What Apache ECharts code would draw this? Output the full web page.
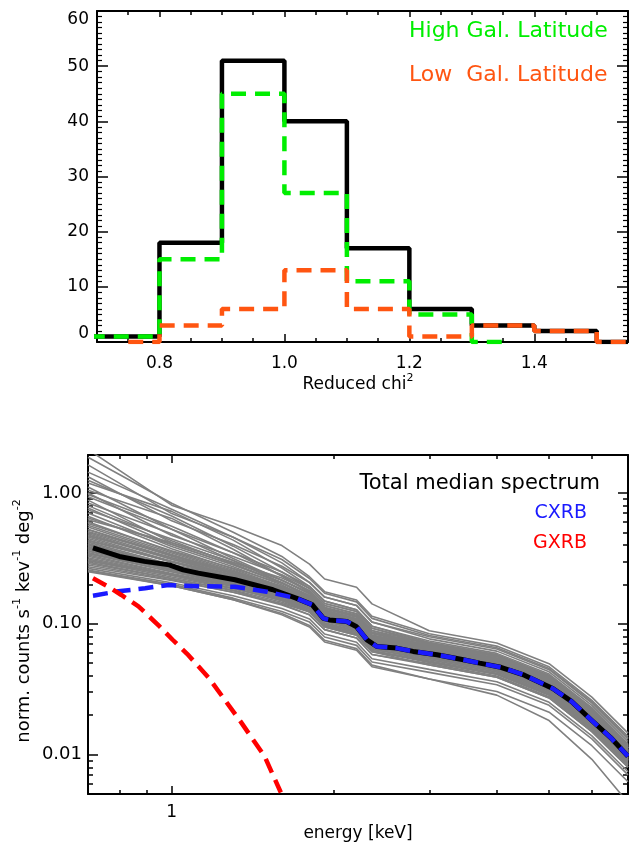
<!DOCTYPE html>
<html>
<head>
<meta charset="utf-8">
<script src="https://cdn.jsdelivr.net/npm/echarts@6/dist/echarts.min.js"></script>
<style>
  html, body { margin: 0; padding: 0; background: #ffffff; }
  #chart { width: 629px; height: 848px; }
</style>
</head>
<body>
<div id="chart"></div>
<script>
// ---------- Reduced chi^2 histogram (bin centres, counts per 0.1 bin) ----------
const chiBinCenters = [0.65, 0.75, 0.85, 0.95, 1.05, 1.15, 1.25, 1.35, 1.45, 1.55];
const countsAll  = [1, 1, 18, 51, 40, 17, 6, 3, 2, 0];
const countsHigh = [1, 1, 15, 45, 27, 11, 5, 0, null, null];
const countsLow  = [null, 0, 3, 6, 13, 6, 1, 3, 2, 0];
const chiMajorTicks = [0.8, 1.0, 1.2, 1.4];
const chiMinorTicks = [0.75, 0.85, 0.9, 0.95, 1.05, 1.1, 1.15, 1.25, 1.3, 1.35, 1.45, 1.5];

// ---------- Spectra: total median, CXRB and GXRB model components ----------
const medianEnergy = [0.715, 0.80, 0.89, 0.99, 1.05, 1.12, 1.31, 1.54, 1.70, 1.82, 1.91, 1.96, 2.11, 2.20,
                      2.30, 2.40, 2.61, 2.80, 3.10, 3.47, 3.72, 4.07, 4.50, 5.08, 5.50, 5.95, 6.50, 7.00];
const medianFlux   = [0.380, 0.327, 0.300, 0.282, 0.258, 0.244, 0.217, 0.182, 0.157, 0.140, 0.110, 0.107, 0.104, 0.095,
                      0.0754, 0.0670, 0.0652, 0.0615, 0.0580, 0.0531, 0.0500, 0.0465, 0.0405, 0.0320, 0.0255, 0.0188, 0.0135, 0.0097];

const cxrbEnergy = [0.715, 0.797, 0.893, 0.987, 1.045, 1.124, 1.31, 1.50, 1.70, 1.82, 1.91, 1.96, 2.11, 2.20,
                    2.30, 2.40, 2.61, 2.80, 3.10, 3.47, 3.72, 4.07, 4.50, 5.08, 5.50, 5.95, 6.50, 7.00];
const cxrbFlux   = [0.164, 0.177, 0.187, 0.198, 0.195, 0.194, 0.192, 0.176, 0.157, 0.140, 0.110, 0.107, 0.104, 0.095,
                    0.0754, 0.0670, 0.0652, 0.0615, 0.0580, 0.0531, 0.0500, 0.0465, 0.0405, 0.0320, 0.0255, 0.0188, 0.0135, 0.0097];

const gxrbEnergy = [0.715, 0.762, 0.807, 0.868, 0.951, 1.004, 1.068, 1.171, 1.343, 1.487, 1.593];
const gxrbFlux   = [0.223, 0.193, 0.166, 0.136, 0.095, 0.0755, 0.0590, 0.0387, 0.0178, 0.00966, 0.00513];

// Individual field spectra, all sampled on the same energy grid (keV)
const fieldEnergy = [0.7, 1.0, 1.3, 1.6, 1.8, 1.92, 2.2, 2.35, 3.0, 4.0, 5.0, 6.0, 7.0];
const fieldSpectra = [
  [2.15, 0.806, 0.556, 0.396, 0.286, 0.220, 0.190, 0.142, 0.0885, 0.0713, 0.0495, 0.0275, 0.0146],
  [1.64, 0.695, 0.458, 0.310, 0.222, 0.171, 0.147, 0.110, 0.0814, 0.0656, 0.0455, 0.0253, 0.0134],
  [1.33, 0.612, 0.403, 0.275, 0.207, 0.160, 0.138, 0.103, 0.0767, 0.0618, 0.0429, 0.0238, 0.0126],
  [1.19, 0.723, 0.436, 0.267, 0.193, 0.149, 0.128, 0.0959, 0.0738, 0.0594, 0.0413, 0.0229, 0.0121],
  [1.11, 0.528, 0.349, 0.249, 0.193, 0.149, 0.128, 0.0959, 0.0720, 0.0580, 0.0403, 0.0223, 0.0118],
  [1.05, 0.639, 0.371, 0.232, 0.179, 0.138, 0.119, 0.0888, 0.0708, 0.0570, 0.0396, 0.0220, 0.0116],
  [0.998, 0.473, 0.327, 0.237, 0.186, 0.143, 0.124, 0.0923, 0.0696, 0.0561, 0.0389, 0.0216, 0.0114],
  [0.936, 0.528, 0.316, 0.215, 0.172, 0.132, 0.114, 0.0852, 0.0679, 0.0546, 0.0380, 0.0210, 0.0112],
  [0.881, 0.417, 0.294, 0.224, 0.179, 0.138, 0.119, 0.0888, 0.0667, 0.0537, 0.0373, 0.0207, 0.0110],
  [0.839, 0.487, 0.305, 0.206, 0.160, 0.123, 0.106, 0.0795, 0.0649, 0.0523, 0.0363, 0.0201, 0.0107],
  [0.768, 0.403, 0.283, 0.206, 0.164, 0.127, 0.109, 0.0817, 0.0649, 0.0523, 0.0363, 0.0201, 0.0107],
  [0.702, 0.389, 0.273, 0.198, 0.157, 0.121, 0.105, 0.0781, 0.0637, 0.0513, 0.0356, 0.0198, 0.0105],
  [0.663, 0.375, 0.262, 0.193, 0.154, 0.119, 0.103, 0.0767, 0.0620, 0.0499, 0.0347, 0.0192, 0.0102],
  [0.601, 0.356, 0.257, 0.189, 0.153, 0.118, 0.102, 0.0760, 0.0614, 0.0494, 0.0343, 0.0190, 0.0101],
  [0.550, 0.339, 0.244, 0.186, 0.150, 0.116, 0.0998, 0.0746, 0.0602, 0.0485, 0.0337, 0.0187, 0.0099],
  [0.523, 0.328, 0.240, 0.181, 0.146, 0.112, 0.0969, 0.0724, 0.0590, 0.0475, 0.0330, 0.0183, 0.0097],
  [0.499, 0.320, 0.235, 0.177, 0.143, 0.110, 0.0950, 0.0710, 0.0578, 0.0466, 0.0323, 0.0179, 0.0095],
  [0.476, 0.311, 0.235, 0.182, 0.150, 0.116, 0.0998, 0.0746, 0.0625, 0.0504, 0.0350, 0.0194, 0.0103],
  [0.460, 0.300, 0.227, 0.172, 0.140, 0.108, 0.0931, 0.0696, 0.0566, 0.0456, 0.0317, 0.0176, 0.0093],
  [0.437, 0.297, 0.229, 0.181, 0.154, 0.119, 0.103, 0.0767, 0.0661, 0.0532, 0.0370, 0.0205, 0.0109],
  [0.421, 0.284, 0.218, 0.169, 0.137, 0.106, 0.0912, 0.0682, 0.0555, 0.0447, 0.0310, 0.0172, 0.0091],
  [0.406, 0.278, 0.218, 0.172, 0.144, 0.111, 0.0960, 0.0717, 0.0608, 0.0489, 0.0340, 0.0188, 0.0100],
  [0.390, 0.270, 0.209, 0.162, 0.133, 0.102, 0.0884, 0.0660, 0.0549, 0.0442, 0.0307, 0.0170, 0.0090],
  [0.371, 0.261, 0.205, 0.163, 0.139, 0.107, 0.0922, 0.0689, 0.0590, 0.0475, 0.0330, 0.0183, 0.0097],
  [0.351, 0.250, 0.196, 0.155, 0.129, 0.099, 0.0855, 0.0639, 0.0531, 0.0428, 0.0297, 0.0165, 0.0087],
  [0.335, 0.242, 0.196, 0.160, 0.137, 0.106, 0.0912, 0.0682, 0.0590, 0.0475, 0.0330, 0.0183, 0.0097],
  [0.320, 0.236, 0.187, 0.150, 0.124, 0.0957, 0.0827, 0.0618, 0.0507, 0.0409, 0.0284, 0.0157, 0.0083],
  [0.304, 0.228, 0.185, 0.155, 0.136, 0.105, 0.0903, 0.0675, 0.0620, 0.0499, 0.0347, 0.0192, 0.0102],
  [0.289, 0.222, 0.179, 0.141, 0.117, 0.0902, 0.0779, 0.0582, 0.0484, 0.0390, 0.0271, 0.0150, 0.0080],
  [0.273, 0.214, 0.174, 0.143, 0.123, 0.0946, 0.0817, 0.0611, 0.0531, 0.0428, 0.0297, 0.0165, 0.0087],
  [0.265, 0.206, 0.164, 0.131, 0.109, 0.0836, 0.0722, 0.0540, 0.0448, 0.0361, 0.0251, 0.0139, 0.0074],
  [0.257, 0.200, 0.157, 0.124, 0.103, 0.0792, 0.0684, 0.0511, 0.0425, 0.0342, 0.0238, 0.0132, 0.0070],
  [0.254, 0.195, 0.153, 0.117, 0.0944, 0.0726, 0.0627, 0.0469, 0.0378, 0.0304, 0.0211, 0.0117, 0.0062],
  [0.250, 0.195, 0.153, 0.120, 0.0972, 0.0748, 0.0646, 0.0483, 0.0378, 0.0285, 0.0182, 0.0092, 0.0043],
  [0.507, 0.334, 0.251, 0.193, 0.160, 0.123, 0.106, 0.0795, 0.0661, 0.0532, 0.0370, 0.0205, 0.0109],
  [0.585, 0.361, 0.266, 0.203, 0.164, 0.127, 0.109, 0.0817, 0.0679, 0.0546, 0.0380, 0.0210, 0.0112],
  [0.382, 0.284, 0.229, 0.184, 0.154, 0.119, 0.103, 0.0767, 0.0637, 0.0513, 0.0356, 0.0198, 0.0105],
  [0.343, 0.267, 0.218, 0.175, 0.149, 0.114, 0.0988, 0.0738, 0.0620, 0.0499, 0.0347, 0.0192, 0.0102],
  [0.624, 0.417, 0.294, 0.215, 0.172, 0.132, 0.114, 0.0852, 0.0708, 0.0570, 0.0396, 0.0220, 0.0116],
  [0.359, 0.256, 0.201, 0.155, 0.123, 0.0946, 0.0817, 0.0611, 0.0484, 0.0390, 0.0271, 0.0150, 0.0080],
  [0.566, 0.348, 0.251, 0.189, 0.154, 0.119, 0.103, 0.0767, 0.0649, 0.0523, 0.0363, 0.0201, 0.0107],
  [0.488, 0.311, 0.235, 0.182, 0.150, 0.116, 0.0998, 0.0746, 0.0620, 0.0499, 0.0347, 0.0192, 0.0102],
  [0.449, 0.295, 0.225, 0.175, 0.146, 0.112, 0.0969, 0.0724, 0.0602, 0.0485, 0.0337, 0.0187, 0.0099],
  [0.429, 0.300, 0.235, 0.189, 0.160, 0.123, 0.106, 0.0795, 0.0679, 0.0546, 0.0380, 0.0210, 0.0112],
  [0.410, 0.278, 0.214, 0.167, 0.139, 0.107, 0.0922, 0.0689, 0.0578, 0.0466, 0.0323, 0.0179, 0.0095],
  [0.378, 0.267, 0.211, 0.172, 0.147, 0.113, 0.0979, 0.0731, 0.0625, 0.0504, 0.0350, 0.0194, 0.0103],
  [0.363, 0.259, 0.203, 0.162, 0.136, 0.105, 0.0903, 0.0675, 0.0566, 0.0456, 0.0317, 0.0176, 0.0093],
  [0.343, 0.250, 0.201, 0.163, 0.140, 0.108, 0.0931, 0.0696, 0.0602, 0.0485, 0.0337, 0.0187, 0.0099],
  [0.328, 0.239, 0.192, 0.155, 0.132, 0.101, 0.0874, 0.0653, 0.0555, 0.0447, 0.0310, 0.0172, 0.0091],
  [0.312, 0.234, 0.187, 0.151, 0.129, 0.099, 0.0855, 0.0639, 0.0543, 0.0437, 0.0304, 0.0168, 0.0089],
  [0.296, 0.222, 0.181, 0.146, 0.124, 0.0957, 0.0827, 0.0618, 0.0519, 0.0418, 0.0290, 0.0161, 0.0085],
  [0.281, 0.217, 0.174, 0.139, 0.117, 0.0902, 0.0779, 0.0582, 0.0496, 0.0399, 0.0277, 0.0154, 0.0081],
  [0.468, 0.320, 0.244, 0.193, 0.162, 0.124, 0.107, 0.0802, 0.0696, 0.0561, 0.0389, 0.0216, 0.0114],
  [0.527, 0.334, 0.244, 0.186, 0.153, 0.118, 0.102, 0.0760, 0.0637, 0.0513, 0.0356, 0.0198, 0.0105],
  [0.644, 0.403, 0.283, 0.206, 0.164, 0.127, 0.109, 0.0817, 0.0661, 0.0532, 0.0370, 0.0205, 0.0109],
  [0.741, 0.445, 0.305, 0.215, 0.169, 0.130, 0.112, 0.0838, 0.0673, 0.0542, 0.0376, 0.0209, 0.0111],
  [0.800, 0.431, 0.288, 0.206, 0.160, 0.123, 0.106, 0.0795, 0.0625, 0.0504, 0.0350, 0.0194, 0.0103],
  [0.975, 0.556, 0.349, 0.232, 0.174, 0.134, 0.116, 0.0866, 0.0679, 0.0546, 0.0380, 0.0210, 0.0112],
  [1.248, 0.667, 0.392, 0.249, 0.186, 0.143, 0.124, 0.0923, 0.0720, 0.0580, 0.0403, 0.0223, 0.0118],
  [1.443, 0.751, 0.458, 0.292, 0.207, 0.160, 0.138, 0.103, 0.0797, 0.0641, 0.0446, 0.0247, 0.0131],
  [1.872, 0.834, 0.501, 0.327, 0.229, 0.176, 0.152, 0.114, 0.0838, 0.0675, 0.0469, 0.0260, 0.0138],
  [0.386, 0.281, 0.225, 0.181, 0.153, 0.118, 0.102, 0.0760, 0.0649, 0.0523, 0.0363, 0.0201, 0.0107],
  [0.398, 0.264, 0.201, 0.155, 0.126, 0.0968, 0.0836, 0.0625, 0.0513, 0.0413, 0.0287, 0.0159, 0.0084],
  [0.304, 0.236, 0.196, 0.160, 0.136, 0.105, 0.0903, 0.0675, 0.0572, 0.0461, 0.0320, 0.0178, 0.0094]
];

const energyMajorTicks = [1];
const energyMinorTicks = [0.8, 0.9, 2, 3, 4, 5, 6];
const fluxMajorTicks = [0.01, 0.1, 1];
const fluxMinorTicks = [0.006, 0.007, 0.008, 0.009,
                        0.02, 0.03, 0.04, 0.05, 0.06, 0.07, 0.08, 0.09,
                        0.2, 0.3, 0.4, 0.5, 0.6, 0.7, 0.8, 0.9];

// ---------- styling ----------
const FONT = 'DejaVu Sans';
const GREEN = '#00ee00';
const ORANGE = '#ff5511';
const BLUE = '#1a1aff';
const RED = '#ff0000';
const frameLine = { color: '#000', width: 2 };
const tickLine = { color: '#000', width: 1.5 };

function pairs(xs, ys) {
  const out = [];
  xs.forEach((x, i) => { if (ys[i] !== null && ys[i] !== undefined) out.push([x, ys[i]]); });
  return out;
}

// One side of a plot frame: the drawn side with major ticks, or a bare minor-tick layer
function frameAxis(base, position, showLine, ticks, tickLen, labelOpt) {
  return Object.assign({}, base, {
    position: position,
    axisLine: { show: showLine, onZero: false, lineStyle: frameLine },
    axisTick: { show: true, inside: true, length: tickLen, customValues: ticks, lineStyle: tickLine },
    axisLabel: labelOpt || { show: false },
    splitLine: { show: false }
  });
}

const histX = { type: 'value', gridIndex: 0, min: 0.7, max: 1.55 };
const specX = { type: 'log', logBase: 10, gridIndex: 1, min: 0.7, max: 7 };
const specY = { type: 'log', logBase: 10, gridIndex: 1, min: 0.005, max: 1.95 };

const histYBase = {
  type: 'value', gridIndex: 0, min: 0, max: 60, interval: 10,
  axisLine: { show: true, onZero: false, lineStyle: frameLine },
  axisTick: { show: true, inside: true, length: 11, lineStyle: tickLine },
  minorTick: { show: true, splitNumber: 10, length: 5, lineStyle: { color: '#000', width: 1.2 } },
  splitLine: { show: false },
  minorSplitLine: { show: false }
};

const xAxes = [
  frameAxis(histX, 'bottom', true, chiMajorTicks, 8, {
    show: true, customValues: chiMajorTicks, formatter: v => v.toFixed(1),
    margin: 13, color: '#000', fontSize: 17, fontFamily: FONT
  }),
  frameAxis(histX, 'bottom', false, chiMinorTicks, 4),
  frameAxis(histX, 'top', true, chiMajorTicks, 6),
  frameAxis(histX, 'top', false, chiMinorTicks, 4),
  frameAxis(specX, 'bottom', true, energyMajorTicks, 8, {
    show: true, customValues: energyMajorTicks, formatter: v => String(Math.round(v)),
    margin: 10, color: '#000', fontSize: 17, fontFamily: FONT
  }),
  frameAxis(specX, 'bottom', false, energyMinorTicks, 4),
  frameAxis(specX, 'top', true, energyMajorTicks, 8),
  frameAxis(specX, 'top', false, energyMinorTicks, 4)
];

const yAxes = [
  Object.assign({}, histYBase, {
    position: 'left',
    axisLabel: { show: true, margin: 8, color: '#000', fontSize: 17, fontFamily: FONT,
                 verticalAlignMaxLabel: 'top', verticalAlignMinLabel: 'bottom' }
  }),
  Object.assign({}, histYBase, { position: 'right', axisLabel: { show: false } }),
  frameAxis(specY, 'left', true, fluxMajorTicks, 10, {
    show: true, customValues: fluxMajorTicks, formatter: v => v.toFixed(2),
    margin: 6, color: '#000', fontSize: 18, fontFamily: FONT
  }),
  frameAxis(specY, 'left', false, fluxMinorTicks, 5),
  frameAxis(specY, 'right', true, fluxMajorTicks, 10),
  frameAxis(specY, 'right', false, fluxMinorTicks, 5)
];

const series = [];

// histograms: total (solid), high and low galactic latitude (dashed)
series.push({
  type: 'line', xAxisIndex: 0, yAxisIndex: 0, step: 'middle', symbol: 'none',
  data: pairs(chiBinCenters, countsAll),
  lineStyle: { color: '#000', width: 4.5 }, z: 3
});
series.push({
  type: 'line', xAxisIndex: 0, yAxisIndex: 0, step: 'middle', symbol: 'none',
  data: pairs(chiBinCenters, countsHigh),
  lineStyle: { color: GREEN, width: 4.5, type: [15, 9] }, z: 4
});
series.push({
  type: 'line', xAxisIndex: 0, yAxisIndex: 0, step: 'middle', symbol: 'none',
  data: pairs(chiBinCenters, countsLow),
  lineStyle: { color: ORANGE, width: 4.5, type: [15, 9] }, z: 5
});

// individual field spectra
fieldSpectra.forEach(spec => {
  series.push({
    type: 'line', xAxisIndex: 4, yAxisIndex: 2, symbol: 'none', silent: true,
    data: pairs(fieldEnergy, spec),
    lineStyle: { color: '#808080', width: 1.6 }, z: 2
  });
});

series.push({
  type: 'line', xAxisIndex: 4, yAxisIndex: 2, symbol: 'none',
  data: pairs(medianEnergy, medianFlux),
  lineStyle: { color: '#000', width: 5 }, z: 3
});
series.push({
  type: 'line', xAxisIndex: 4, yAxisIndex: 2, symbol: 'none',
  data: pairs(cxrbEnergy, cxrbFlux),
  lineStyle: { color: BLUE, width: 4.5, type: [15, 8] }, z: 4
});
series.push({
  type: 'line', xAxisIndex: 4, yAxisIndex: 2, symbol: 'none',
  data: pairs(gxrbEnergy, gxrbFlux),
  lineStyle: { color: RED, width: 4.5, type: [15, 8] }, z: 4
});

// superscripts: small token pinned to the top of a taller line box
const supStyle = { fontSize: 11, lineHeight: 11, fontFamily: FONT, fill: '#000', verticalAlign: 'top' };

function label(x, y, text, size, color, align, extra) {
  return Object.assign({
    type: 'text', x: x, y: y, z: 50,
    style: { text: text, fill: color, fontSize: size, fontFamily: FONT, align: align, verticalAlign: 'middle' }
  }, extra || {});
}

const graphics = [
  label(409, 31, 'High Gal. Latitude', 22, GREEN, 'left'),
  label(409, 75, 'Low  Gal. Latitude', 22, ORANGE, 'left'),
  label(600, 484, 'Total median spectrum', 21, '#000', 'right'),
  label(587, 513, 'CXRB', 19, BLUE, 'right'),
  label(587, 543, 'GXRB', 19, RED, 'right'),
  {
    type: 'text', x: 358, y: 385, z: 50,
    style: { text: 'Reduced chi{s|2}', fill: '#000', fontSize: 17, lineHeight: 24, fontFamily: FONT,
             align: 'center', verticalAlign: 'middle', rich: { s: supStyle } }
  },
  label(358, 834, 'energy [keV]', 17, '#000', 'center'),
  {
    type: 'text', x: 24, y: 621, rotation: Math.PI / 2, z: 50,
    style: { text: 'norm. counts s{s|-1} kev{s|-1} deg{s|-2}', fill: '#000', fontSize: 18, lineHeight: 25,
             fontFamily: FONT, align: 'center', verticalAlign: 'middle', rich: { s: supStyle } }
  }
];

const chart = echarts.init(document.getElementById('chart'), null, { renderer: 'canvas', width: 629, height: 848 });
chart.setOption({
  animation: false,
  backgroundColor: '#ffffff',
  grid: [
    { left: 97, top: 11, width: 531, height: 331, containLabel: false, outerBoundsMode: 'none' },
    { left: 88, top: 455, width: 540, height: 339, containLabel: false, outerBoundsMode: 'none' }
  ],
  xAxis: xAxes,
  yAxis: yAxes,
  series: series,
  graphic: graphics
});
</script>
</body>
</html>
